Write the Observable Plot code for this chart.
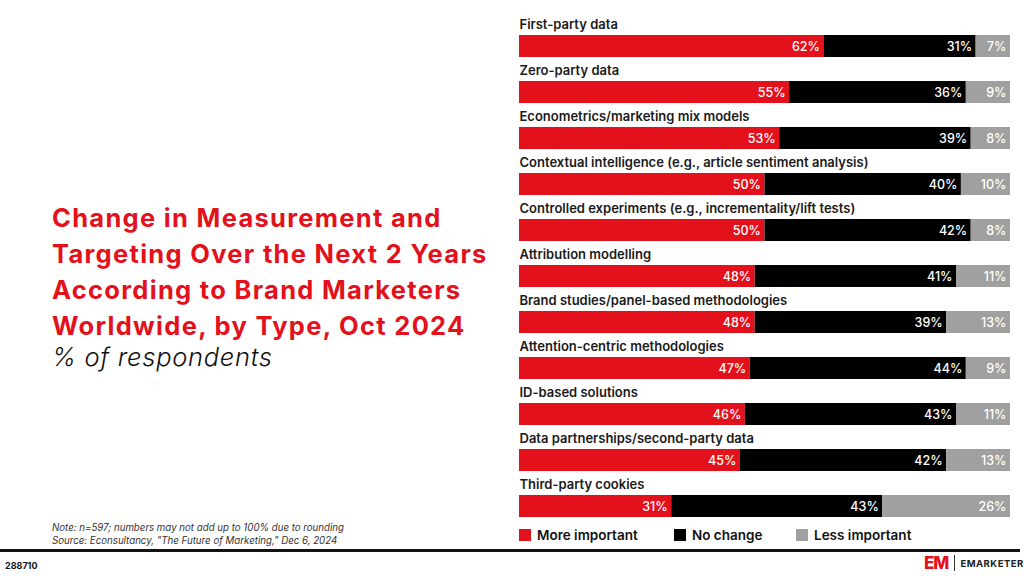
<!DOCTYPE html>
<html>
<head>
<meta charset="utf-8">
<script src="https://cdn.jsdelivr.net/npm/d3@7"></script>
<script src="https://cdn.jsdelivr.net/npm/@observablehq/plot@0.6"></script>
<style>
  html, body { margin: 0; padding: 0; background: #fff; }
  #page { position: relative; width: 1024px; height: 576px; overflow: hidden; font-family: Inter, "Noto Sans", sans-serif; }
  #title { position: absolute; left: 52px; top: 200px; width: 470px; color: #e3111b; font-size: 25.5px; font-weight: 700; line-height: 36px; letter-spacing: 1.3px; white-space: nowrap; }
  #subtitle { position: absolute; left: 52px; top: 341px; color: #111; font-size: 25.5px; font-style: italic; font-weight: 300; letter-spacing: 0.7px; }
  #chart { position: absolute; left: 0; top: 0; }
  #legend { position: absolute; left: 519px; top: 527px; font-size: 13.5px; font-weight: 600; color: #111; }
  .sw { position: absolute; width: 12px; height: 12px; top: 2px; }
  .lt { position: absolute; top: 0; white-space: nowrap; }
  #note { position: absolute; left: 52px; top: 522px; font-size: 9.7px; font-style: italic; color: #333; line-height: 12.5px; }
  #rule { position: absolute; left: 0; top: 549px; width: 1020px; height: 3px; background: #111; }
  #id { position: absolute; left: 5px; top: 560px; font-size: 9px; font-weight: 700; color: #111; }
  #logo { position: absolute; left: 924px; top: 553px; height: 20px; display: flex; align-items: center; }
  #logo .em { color: #e3111b; font-weight: 800; font-size: 17px; letter-spacing: -1px; }
  #logo .bar { width: 1px; height: 16px; background: #333; margin: 0 5px 0 6px; }
  #logo .name { font-weight: 700; font-size: 9.5px; letter-spacing: 0.5px; color: #222; }
</style>
</head>
<body>
<div id="page">
  <div id="title">Change in Measurement and<br>Targeting Over the Next 2 Years<br>According to Brand Marketers<br>Worldwide, by Type, Oct 2024</div>
  <div id="subtitle">% of respondents</div>
  <div id="chart"></div>
  <div id="legend"></div>
  <div id="note">Note: n=597; numbers may not add up to 100% due to rounding<br>Source: Econsultancy, "The Future of Marketing," Dec 6, 2024</div>
  <div id="rule"></div>
  <div id="id">288710</div>
  <div id="logo"><span class="em">EM</span><span class="bar"></span><span class="name">EMARKETER</span></div>
</div>
<script>
const categories = [
  "First-party data",
  "Zero-party data",
  "Econometrics/marketing mix models",
  "Contextual intelligence (e.g., article sentiment analysis)",
  "Controlled experiments (e.g., incrementality/lift tests)",
  "Attribution modelling",
  "Brand studies/panel-based methodologies",
  "Attention-centric methodologies",
  "ID-based solutions",
  "Data partnerships/second-party data",
  "Third-party cookies"
];
const seriesNames = ["More important", "No change", "Less important"];
const seriesColors = ["#e3111b", "#000000", "#a0a0a0"];
const moreImportant = [62, 55, 53, 50, 50, 48, 48, 47, 46, 45, 31];
const noChange = [31, 36, 39, 40, 42, 41, 39, 44, 43, 42, 43];
const lessImportant = [7, 9, 8, 10, 8, 11, 13, 9, 11, 13, 26];

const seriesValues = [moreImportant, noChange, lessImportant];
const data = [];
categories.forEach((c, i) => {
  seriesNames.forEach((s, j) => {
    data.push({category: c, series: s, value: seriesValues[j][i]});
  });
});

const plot = Plot.plot({
  width: 1024,
  height: 525,
  marginLeft: 519,
  marginRight: 14,
  marginTop: 35,
  marginBottom: 7,
  x: {domain: [0, 100], axis: null},
  y: {domain: categories, axis: null, paddingInner: 0.52, paddingOuter: 0},
  color: {domain: seriesNames, range: seriesColors},
  style: {fontFamily: "Inter, 'Noto Sans', sans-serif"},
  marks: [
    Plot.barX(data, Plot.stackX({x: "value", y: "category", fill: "series", order: seriesNames})),
    Plot.text(data, Plot.stackX2({x: "value", y: "category", z: "series", order: seriesNames,
      text: d => d.value + "%", textAnchor: "end", dx: -4, fill: "white", fontSize: 12.5, fontWeight: 500})),
    Plot.text(categories, {y: d => d, text: d => d, frameAnchor: "left", textAnchor: "start", dy: -22,
      fill: "#1a1a1a", fontSize: 13, fontWeight: 600})
  ]
});
document.getElementById("chart").appendChild(plot);

const legend = document.getElementById("legend");
const legendX = [0, 155, 277];
seriesNames.forEach((s, i) => {
  const sw = document.createElement("div");
  sw.className = "sw"; sw.style.left = legendX[i] + "px"; sw.style.background = seriesColors[i];
  legend.appendChild(sw);
  const t = document.createElement("div");
  t.className = "lt"; t.style.left = (legendX[i] + 18) + "px"; t.textContent = s;
  legend.appendChild(t);
});
</script>
</body>
</html>
